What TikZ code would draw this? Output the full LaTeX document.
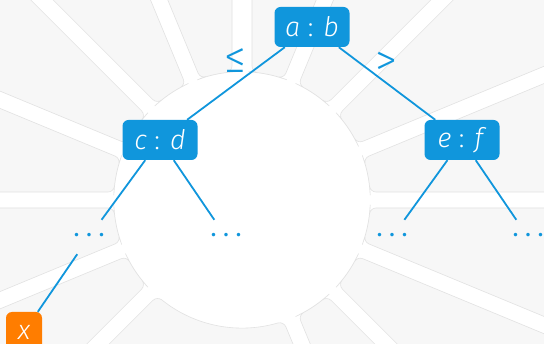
\documentclass[tikz,border=0pt]{standalone}
\usepackage{fontspec}
\setmainfont{Fira Sans}[UprightFont=* Light, ItalicFont=* Light Italic]
\newfontfamily\dotsfont{Fira Sans}
\usetikzlibrary{calc}

\definecolor{treeblue}{RGB}{16,150,220}
\definecolor{leaforange}{RGB}{255,125,0}
\definecolor{tilefill}{RGB}{247,247,247}
\definecolor{tileedge}{RGB}{226,226,226}

% One background tile: an annular sector between two radial gaps.
% #1 start angle, #2 end angle, #3/#4 half widths of the gaps on either side.
\newcommand\bgtile[4]{%
  \pgfmathsetmacro\tA{#1+atan(#3/128)}%
  \pgfmathsetmacro\tB{#2-atan(#4/128)}%
  \pgfmathsetmacro\rr{veclen(128,#3)}%
  \filldraw[tile]
    ($(C)+(#1:128)+(#1+90:#3)$) -- ($(C)+(#1:800)+(#1+90:#3)$)
    -- ($(C)+(#2:800)+(#2-90:#4)$) -- ($(C)+(#2:128)+(#2-90:#4)$)
    \foreach \k in {1,...,11}{ -- ($(C)+({\tB+(\tA-\tB)*\k/12}:\rr)$) }
    -- cycle;
}

\tikzset{
  tile/.style={fill=tilefill, draw=tileedge, line width=0.6pt, rounded corners=6pt},
  bigfont/.style={font=\fontsize{27}{32}\selectfont},
  keynode/.style={bigfont, fill=treeblue, text=white, rounded corners=6pt,
    minimum height=40pt, minimum width=75pt, inner sep=0pt},
  leafnode/.style={bigfont, fill=leaforange, text=white, rounded corners=6pt,
    minimum height=40pt, minimum width=36pt, inner sep=0pt},
  dotsnode/.style={font=\dotsfont\fontsize{25}{30}\selectfont, text=treeblue,
    inner sep=0pt, text height=0pt, text depth=0pt, minimum height=34pt},
  rel/.style={font=\fontsize{44}{50}\selectfont, text=treeblue, inner sep=0pt},
  branch/.style={draw=treeblue, line width=1.8pt},
}

\begin{document}
\begin{tikzpicture}[x=1pt, y=1pt]
\useasboundingbox (0,0) rectangle (544,-344);
\clip (0,0) rectangle (544,-344);
\fill[white] (0,0) rectangle (544,-344);

% radial tiles around the central white disc
\coordinate (C) at (242,-200);
\bgtile{0}{22.5}{8}{8}
\bgtile{22.5}{45}{8}{8}
\bgtile{45}{67.5}{8}{8}
\bgtile{67.5}{90}{8}{10}
\bgtile{90}{112.5}{10}{8}
\bgtile{112.5}{135}{8}{8}
\bgtile{135}{157.5}{8}{8}
\bgtile{157.5}{180}{8}{8}
\bgtile{180}{202.5}{8}{8}
\bgtile{202.5}{225}{8}{8}
\bgtile{225}{292.5}{8}{8}
\bgtile{292.5}{315}{8}{8}
\bgtile{315}{337.5}{8}{8}
\bgtile{337.5}{360}{8}{8}

% search tree
\node[keynode] (ab) at (312,-27) {\textit{a} : \textit{b}};
\node[keynode] (cd) at (160,-140) {\textit{c} : \textit{d}};
\node[keynode] (ef) at (462,-140) {\textit{e} : \textit{f}};

\node[dotsnode] (d1) at (89,-237)  {.\hspace{6.5pt}.\hspace{6.5pt}.};
\node[dotsnode] (d2) at (226,-237) {.\hspace{6.5pt}.\hspace{6.5pt}.};
\node[dotsnode] (d3) at (392,-237) {.\hspace{6.5pt}.\hspace{6.5pt}.};
\node[dotsnode] (d4) at (528,-237) {.\hspace{6.5pt}.\hspace{6.5pt}.};

\node[leafnode] (x) at (24,-332) {\textit{x}};

\node[rel] (le) at (235,-61) {≤};
\node[rel] (gt) at (386,-64) {>};

\draw[branch] (ab) -- (cd);
\draw[branch] (ab) -- (ef);
\draw[branch] (cd) -- (d1);
\draw[branch] (cd) -- (d2);
\draw[branch] (ef) -- (d3);
\draw[branch] (ef) -- (d4);
\draw[branch] (d1) -- (x);
\end{tikzpicture}
\end{document}
